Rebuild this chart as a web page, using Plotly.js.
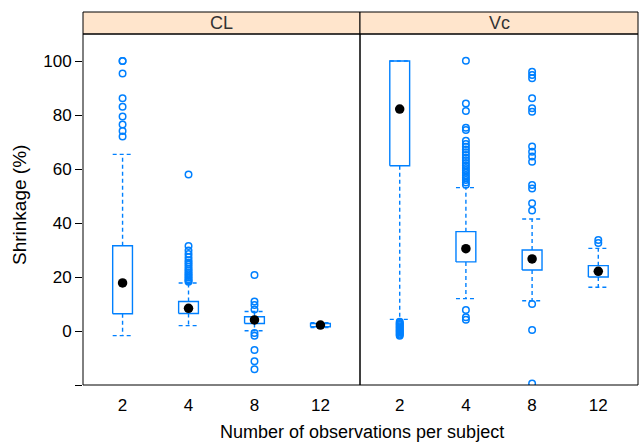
<!DOCTYPE html>
<html>
<head>
<meta charset="utf-8">
<script src="https://cdn.plot.ly/plotly-3.0.1.min.js"></script>
<style>html,body{margin:0;padding:0;background:#fff;}#chart{width:641px;height:442px;}</style>
</head>
<body>
<div id="chart"></div>
<script>
// Categories (number of observations per subject)
const categories = ["2", "4", "8", "12"];
const panels = ["CL", "Vc"];

// CL panel box statistics
const clQ1 = [6.4, 6.5, 2.8, 1.6];
const clMedian = [17.8, 8.4, 4.1, 2.2];
const clQ3 = [31.6, 10.9, 5.3, 2.8];
const clLower = [-1.7, 2.0, 0.1, 1.3];
const clUpper = [65.4, 17.8, 7.2, 3.1];
const clOut2 = [100, 100, 95.4, 86.2, 83.1, 79.4, 76.5, 74.1, 72.0];
const clOut4 = [58.0, 31.5, 29.8, 28.5, 27.3, 26.2, 25.4, 24.6, 23.8, 23.0, 22.3, 21.6, 21.0, 20.4, 19.8, 19.2, 18.7, 18.2];
const clOut8 = [20.7, 10.9, 9.6, 8.0, -0.7, -1.8, -7.0, -11.2, -14.2];
const clOut12 = [];

// Vc panel box statistics
const vcQ1 = [61.2, 25.6, 22.6, 20.0];
const vcMedian = [82.2, 30.5, 26.7, 22.1];
const vcQ3 = [100, 36.8, 30.0, 24.2];
const vcLower = [4.3, 12.0, 11.2, 16.2];
const vcUpper = [100, 53.1, 41.5, 30.6];
const vcOut2 = [3.4, 3.0, 2.6, 2.2, 1.8, 1.4, 1.0, 0.6, 0.2, -0.2, -0.6, -1.0, -1.4, -1.8];
const vcOut4 = [100.1, 84.3, 81.5, 75.3, 74.4, 70.5, 69.3, 68.2, 67.2, 66.2, 65.2, 64.2, 63.2, 62.2, 61.3, 60.4, 59.5, 58.6, 57.7, 56.8, 55.9, 55.0, 54.2, 7.8, 5.1, 4.2];
const vcOut8 = [96.0, 94.8, 93.6, 86.2, 82.5, 81.2, 68.3, 66.4, 64.6, 62.7, 54.1, 52.8, 47.3, 44.6, 10.0, 0.4, -19.4];
const vcOut12 = [33.7, 32.6];

// Y axis ticks
const yTickVals = [-20, 0, 20, 40, 60, 80, 100];
const yTickText = ["", "0", "20", "40", "60", "80", "100"];

const BLUE = "#0080ff";
const HW = 0.15; // box half width in category units
const FONT = "Liberation Sans, Arial, Helvetica, sans-serif";

const traces = [];
function addPanel(xaxis, q1, med, q3, lo, hi, outs) {
  const bx = [], by = [], wx = [], wy = [];
  categories.forEach((c, i) => {
    const p = i + 1;
    bx.push(p - HW, p + HW, p + HW, p - HW, p - HW, null);
    by.push(q1[i], q1[i], q3[i], q3[i], q1[i], null);
    wx.push(p, p, null, p, p, null, p - HW, p + HW, null, p - HW, p + HW, null);
    wy.push(q3[i], hi[i], null, q1[i], lo[i], null, hi[i], hi[i], null, lo[i], lo[i], null);
  });
  traces.push({type: "scatter", mode: "lines", x: wx, y: wy, xaxis: xaxis, yaxis: "y",
    line: {color: BLUE, width: 1.4, dash: "4px,3px"}, hoverinfo: "skip", showlegend: false});
  traces.push({type: "scatter", mode: "lines", x: bx, y: by, xaxis: xaxis, yaxis: "y",
    line: {color: BLUE, width: 1.4}, hoverinfo: "skip", showlegend: false});
  const ox = [], oy = [];
  outs.forEach((arr, i) => arr.forEach(v => { ox.push(i + 1); oy.push(v); }));
  traces.push({type: "scatter", mode: "markers", x: ox, y: oy, xaxis: xaxis, yaxis: "y",
    marker: {symbol: "circle-open", size: 6.5, color: BLUE, line: {width: 1.5, color: BLUE}},
    showlegend: false});
  traces.push({type: "scatter", mode: "markers", x: categories.map((c, i) => i + 1), y: med,
    xaxis: xaxis, yaxis: "y", marker: {size: 9.5, color: "#000"}, showlegend: false});
}
addPanel("x", clQ1, clMedian, clQ3, clLower, clUpper, [clOut2, clOut4, clOut8, clOut12]);
addPanel("x2", vcQ1, vcMedian, vcQ3, vcLower, vcUpper, [vcOut2, vcOut4, vcOut8, vcOut12]);

const split = 277 / 555;
const stripH = 22 / 351;
const xcommon = {
  range: [0.4, 4.6], tickmode: "array", tickvals: [1, 2, 3, 4], ticktext: categories,
  showgrid: false, zeroline: false, showline: false, ticks: "outside", ticklen: 5,
  tickcolor: "rgba(0,0,0,0)", tickfont: {family: FONT, size: 17, color: "#000"}, fixedrange: true
};
const layout = {
  width: 641, height: 442,
  margin: {l: 83, r: 3, t: 34, b: 57, pad: 0},
  paper_bgcolor: "#fff", plot_bgcolor: "#fff",
  showlegend: false,
  xaxis: Object.assign({}, xcommon, {domain: [0, split], anchor: "y"}),
  xaxis2: Object.assign({}, xcommon, {domain: [split, 1], anchor: "y"}),
  yaxis: {
    range: [-20, 110], tickmode: "array", tickvals: yTickVals, ticktext: yTickText,
    showgrid: false, zeroline: false, showline: false, ticks: "outside", ticklen: 7,
    tickcolor: "#000", tickwidth: 1, tickfont: {family: FONT, size: 17, color: "#000"},
    anchor: "x", domain: [0, 1]
  },
  yaxis2: {
    range: [-20, 110], tickmode: "array", tickvals: yTickVals, overlaying: "y", side: "right",
    anchor: "x2", showticklabels: false, showgrid: false, zeroline: false, showline: false,
    ticks: "outside", ticklen: 6, tickcolor: "#000"
  },
  shapes: [
    {type: "rect", xref: "paper", yref: "paper", x0: 0, x1: split, y0: 1, y1: 1 + stripH,
      fillcolor: "#ffe5cc", line: {color: "#000", width: 1}},
    {type: "rect", xref: "paper", yref: "paper", x0: split, x1: 1, y0: 1, y1: 1 + stripH,
      fillcolor: "#ffe5cc", line: {color: "#000", width: 1}},
    {type: "rect", xref: "paper", yref: "paper", x0: 0, x1: split, y0: 0, y1: 1,
      line: {color: "#000", width: 1}},
    {type: "rect", xref: "paper", yref: "paper", x0: split, x1: 1, y0: 0, y1: 1,
      line: {color: "#000", width: 1}}
  ],
  annotations: [
    {text: panels[0], xref: "paper", yref: "paper", x: split / 2, y: 1 + stripH / 2,
      xanchor: "center", yanchor: "middle", showarrow: false,
      font: {family: FONT, size: 18, color: "#333"}},
    {text: panels[1], xref: "paper", yref: "paper", x: (split + 1) / 2, y: 1 + stripH / 2,
      xanchor: "center", yanchor: "middle", showarrow: false,
      font: {family: FONT, size: 18, color: "#333"}},
    {text: "Number of observations per subject", xref: "paper", yref: "paper",
      x: (361.5 - 83) / 555, y: (385 - 432) / 351, xanchor: "center", yanchor: "middle",
      showarrow: false, font: {family: FONT, size: 18, color: "#000"}},
    {text: "Shrinkage (%)", xref: "paper", yref: "paper", textangle: -90,
      x: (19 - 83) / 555, y: 1 - (205 - 34) / 351, xanchor: "center", yanchor: "middle",
      showarrow: false, font: {family: FONT, size: 19, color: "#000"}}
  ]
};
Plotly.newPlot("chart", traces, layout, {staticPlot: true, displayModeBar: false});
</script>
</body>
</html>
